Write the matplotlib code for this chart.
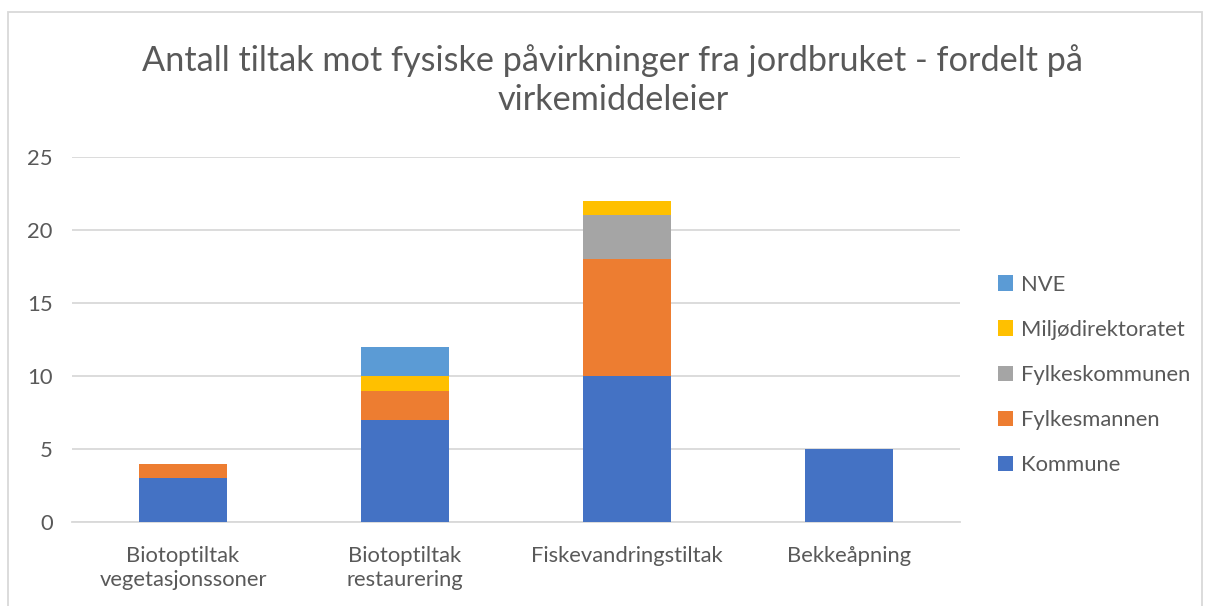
import matplotlib
matplotlib.use("Agg")
import matplotlib.pyplot as plt
import numpy as np
from matplotlib.patches import Rectangle

plt.rcParams["font.family"] = ["Lato", "DejaVu Sans"]

# =============================================================================
# Data
categories = ["Biotoptiltak\nvegetasjonssoner", "Biotoptiltak\nrestaurering",
              "Fiskevandringstiltak", "Bekkeåpning"]
series_names = ["Kommune", "Fylkesmannen", "Fylkeskommunen", "Miljødirektoratet", "NVE"]
kommune = [3, 7, 10, 5]
fylkesmannen = [1, 2, 8, 0]
fylkeskommunen = [0, 0, 3, 0]
miljodirektoratet = [0, 1, 1, 0]
nve = [0, 2, 0, 0]
colors = ["#4472C4", "#ED7D31", "#A5A5A5", "#FFC000", "#5B9BD5"]
yticks = [0, 5, 10, 15, 20, 25]

title = "Antall tiltak mot fysiske påvirkninger fra jordbruket - fordelt på\nvirkemiddeleier"
text_color = "#595959"

# =============================================================================
fig = plt.figure(figsize=(12.06, 6.06), dpi=100)
ax = fig.add_axes([72 / 1206, 1 - 522 / 606, 888 / 1206, 365 / 606])

x = np.arange(len(categories))
bottom = np.zeros(len(categories))
handles = []
for name, vals, c in zip(series_names,
                         [kommune, fylkesmannen, fylkeskommunen, miljodirektoratet, nve],
                         colors):
    vals = np.array(vals, dtype=float)
    b = ax.bar(x, vals, 0.4, bottom=bottom, color=c, label=name, zorder=3)
    bottom += vals
    handles.append(b)

ax.set_xlim(-0.5, len(categories) - 0.5)
ax.set_ylim(0, 25)
ax.set_yticks(yticks)
ax.set_xticks(x)
ax.set_xticklabels(categories, fontsize=15.8, color=text_color, linespacing=1.25)
ax.tick_params(axis="y", labelsize=15.8, labelcolor=text_color, length=0, pad=14)
ax.tick_params(axis="x", length=0, pad=17)
ax.grid(axis="y", color="#D9D9D9", linewidth=1.3, zorder=0)
for s in ["top", "right", "left"]:
    ax.spines[s].set_visible(False)
ax.spines["bottom"].set_color("#D9D9D9")
ax.spines["bottom"].set_linewidth(1.3)

fig.text(613 / 1206, 1 - 80 / 606, title, ha="center", va="center",
         fontsize=24.7, color=text_color, linespacing=1.3)

leg = fig.legend(handles[::-1], series_names[::-1], loc="center left",
                 bbox_to_anchor=(978 / 1206, 1 - 375 / 606), frameon=False,
                 fontsize=15.8, labelcolor=text_color, handlelength=0.7,
                 handleheight=0.7, handletextpad=0.35, labelspacing=1.15)

# chart border
fig.patches.append(Rectangle((8 / 1206, -0.01), 1194 / 1206, 1 - 12 / 606 + 0.01,
                             transform=fig.transFigure, fill=False,
                             edgecolor="#D9D9D9", linewidth=1.3))

fig.savefig("out.png", dpi=100)
